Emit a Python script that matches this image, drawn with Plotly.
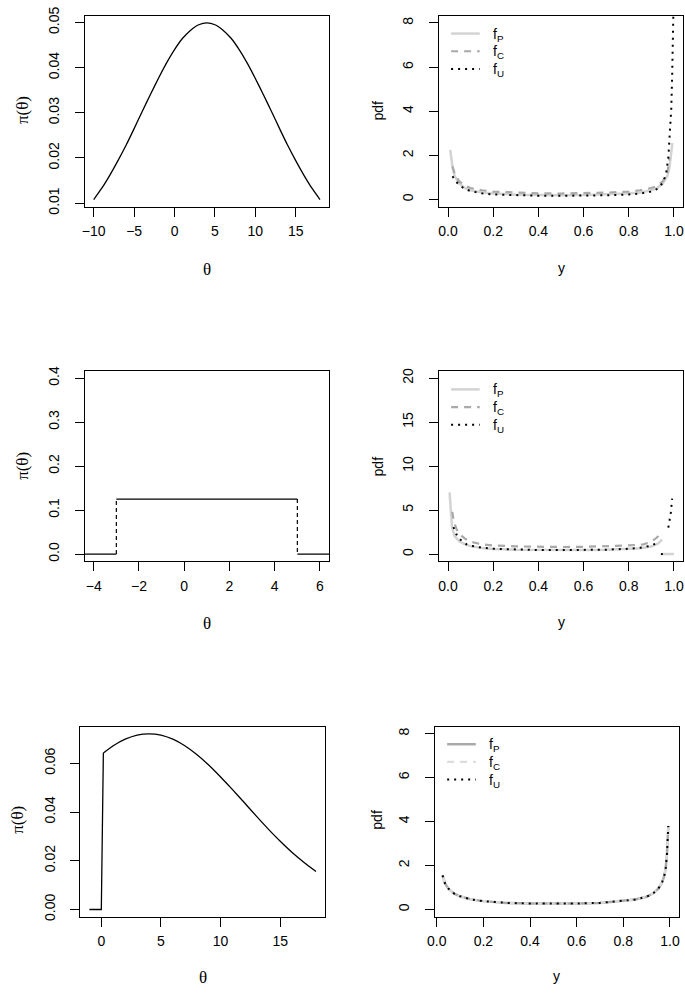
import plotly.graph_objects as go

W, H = 685, 995

# ---------------- data ----------------
# Panel 1: normal-shaped prior
theta_a = list(range(-10, 19))
prior_a = [0.0108, 0.0133, 0.0162, 0.0194, 0.0228, 0.0265, 0.0303, 0.0340, 0.0376, 0.0410,
           0.0440, 0.0465, 0.0483, 0.0495, 0.0499, 0.0495, 0.0483, 0.0465, 0.0440, 0.0410,
           0.0376, 0.0340, 0.0303, 0.0265, 0.0228, 0.0194, 0.0162, 0.0133, 0.0108]

# Panel 2: predictive densities
yB_P = [0.01, 0.02, 0.03, 0.05, 0.075, 0.1, 0.15, 0.2, 0.3, 0.4, 0.5, 0.6, 0.7, 0.8, 0.85,
        0.9, 0.925, 0.95, 0.97, 0.98, 0.993]
fB_P = [2.25, 1.45, 1.05, 0.72, 0.52, 0.42, 0.32, 0.27, 0.22, 0.20, 0.19, 0.20, 0.22, 0.27,
        0.32, 0.42, 0.52, 0.72, 1.05, 1.45, 2.55]
yB_C = [0.02, 0.03, 0.05, 0.075, 0.1, 0.15, 0.2, 0.3, 0.4, 0.5, 0.6, 0.7, 0.8, 0.85, 0.9,
        0.925, 0.95, 0.97, 0.98]
fB_C = [1.5, 1.15, 0.82, 0.62, 0.52, 0.42, 0.36, 0.31, 0.28, 0.27, 0.28, 0.31, 0.36, 0.42,
        0.52, 0.62, 0.82, 1.15, 1.9]
yB_U = [0.02, 0.03, 0.05, 0.075, 0.1, 0.15, 0.2, 0.3, 0.4, 0.5, 0.6, 0.7, 0.8, 0.85, 0.9,
        0.93, 0.95, 0.965, 0.975, 0.982, 0.988, 0.992, 0.995, 0.998]
fB_U = [1.05, 0.88, 0.65, 0.48, 0.38, 0.28, 0.23, 0.19, 0.17, 0.17, 0.17, 0.19, 0.23, 0.27,
        0.36, 0.5, 0.75, 1.15, 1.9, 2.9, 4.1, 5.6, 7.2, 8.8]

# Panel 3: uniform prior on [-3, 5]
theta_c_flat = [-5, -3, None, -3, 5, None, 5, 7]
prior_c_flat = [0, 0, None, 0.125, 0.125, None, 0, 0]
theta_c_jump = [-3, -3, None, 5, 5]
prior_c_jump = [0, 0.125, None, 0.125, 0]

# Panel 4: predictive densities
yD_P = [0.007, 0.012, 0.018, 0.03, 0.05, 0.075, 0.1, 0.15, 0.2, 0.3, 0.4, 0.5, 0.6, 0.7, 0.8,
        0.85, 0.9, 0.93, 0.947, None, 0.95, 1.0]
fD_P = [7.0, 4.5, 3.0, 2.0, 1.45, 1.1, 0.9, 0.7, 0.58, 0.5, 0.46, 0.45, 0.46, 0.5, 0.58,
        0.65, 0.85, 1.2, 1.65, None, 0, 0]
yD_C = [0.019, 0.025, 0.038, 0.05, 0.075, 0.1, 0.15, 0.2, 0.3, 0.4, 0.5, 0.6, 0.7, 0.8,
        0.865, 0.9, 0.923, 0.937]
fD_C = [4.8, 3.8, 2.8, 2.3, 1.75, 1.4, 1.1, 0.98, 0.87, 0.82, 0.8, 0.82, 0.87, 0.98,
        1.1, 1.4, 1.85, 2.2]
yD_U = [0.024, 0.038, 0.053, 0.082, 0.1, 0.15, 0.2, 0.3, 0.4, 0.5, 0.6, 0.7, 0.8, 0.85, 0.9,
        0.927, None, 0.942, 0.952, None, 0.975, 0.982, 0.986, 0.989, 0.992]
fD_U = [3.07, 2.2, 1.67, 1.1, 0.95, 0.72, 0.6, 0.5, 0.46, 0.45, 0.46, 0.5, 0.6, 0.72, 0.95,
        1.3, None, 0, 0, None, 3.0, 3.85, 4.7, 5.5, 6.3]

# Panel 5: truncated prior on [0, inf)
theta_e_jump = [-1, 0, 0.17]
prior_e_jump = [0, 0, 0.0642]
theta_e = [0.17, 1, 2, 3, 4, 5, 6, 7, 8, 9, 10, 11, 12, 13, 14, 15, 16, 17, 18]
prior_e = [0.0642, 0.0672, 0.0699, 0.0716, 0.0721, 0.0716, 0.0699, 0.0672, 0.0636,
           0.0593, 0.0544, 0.0492, 0.0438, 0.0383, 0.0330, 0.0280, 0.0234, 0.0193, 0.0156]

# Panel 6: predictive densities (all three coincide)
yF = [0.025, 0.035, 0.05, 0.075, 0.1, 0.15, 0.2, 0.3, 0.4, 0.5, 0.6, 0.7, 0.8, 0.85, 0.9,
      0.93, 0.95, 0.965, 0.975, 0.982, 0.987, 0.991, 0.993]
fF = [1.55, 1.2, 0.95, 0.72, 0.6, 0.45, 0.38, 0.3, 0.27, 0.26, 0.27, 0.3, 0.38, 0.45, 0.58,
      0.75, 0.95, 1.2, 1.5, 1.9, 2.5, 3.2, 3.8]

# tick labels
ticks_a_x = [-10, -5, 0, 5, 10, 15]
ticks_a_y = [0.01, 0.02, 0.03, 0.04, 0.05]
ticktext_a_y = ["0.01", "0.02", "0.03", "0.04", "0.05"]
ticks_pdf_x = [0, 0.2, 0.4, 0.6, 0.8, 1.0]
ticktext_pdf_x = ["0.0", "0.2", "0.4", "0.6", "0.8", "1.0"]
ticks_b_y = [0, 2, 4, 6, 8]
ticks_c_x = [-4, -2, 0, 2, 4, 6]
ticks_c_y = [0, 0.1, 0.2, 0.3, 0.4]
ticktext_c_y = ["0.0", "0.1", "0.2", "0.3", "0.4"]
ticks_d_y = [0, 5, 10, 15, 20]
ticks_e_x = [0, 5, 10, 15]
ticks_e_y = [0, 0.02, 0.04, 0.06]
ticktext_e_y = ["0.00", "0.02", "0.04", "0.06"]

legend_names = ["f<sub>P</sub>", "f<sub>C</sub>", "f<sub>U</sub>"]

# ---------------- styling ----------------
SANS = "Liberation Sans, Arial, Helvetica, sans-serif"
SERIF = "Liberation Serif, Times New Roman, serif"
DOT = "2px,5px"
DASH = "7px,6px"

COL_P = {2: "#d3d3d3", 4: "#d3d3d3", 6: "#a9a9a9"}
COL_C = {2: "#a9a9a9", 4: "#a9a9a9", 6: "#dcdcdc"}
STY_P = dict(width=2.5)
STY_C = dict(width=2.2, dash=DASH)
STY_U = dict(color="black", width=2, dash=DOT)

# panel frames in pixels (left, right, top, bottom)
frames = {
    1: (77.7, 325.3, 7.0, 201.0),
    2: (436.7, 684.0, 7.0, 201.0),
    3: (77.7, 325.3, 368.3, 561.7),
    4: (436.7, 684.0, 368.3, 561.7),
    5: (73.3, 321.3, 730.0, 923.3),
    6: (432.3, 680.0, 730.0, 923.3),
}


def dom(i):
    l, r, t, b = frames[i]
    return [l / W, r / W], [1 - b / H, 1 - t / H]


def axis_common():
    return dict(showline=True, mirror=True, linecolor="black", linewidth=1,
                ticks="outside", ticklen=9, tickwidth=1, tickcolor="black",
                showgrid=False, zeroline=False, fixedrange=True,
                tickfont=dict(family=SANS, size=14, color="black"))


fig = go.Figure()

def add(i, x, y, **kw):
    s = "" if i == 1 else str(i)
    fig.add_trace(go.Scatter(x=x, y=y, mode="lines", xaxis="x" + s, yaxis="y" + s,
                             hoverinfo="skip", showlegend=False, **kw))

# Panel 1
add(1, theta_a, prior_a, line=dict(color="black", width=1.3, shape="spline", smoothing=0.6))
# Panel 2
add(2, yB_P, fB_P, name="fP", line=dict(color=COL_P[2], **STY_P))
add(2, yB_C, fB_C, name="fC", line=dict(color=COL_C[2], **STY_C))
add(2, yB_U, fB_U, name="fU", line=STY_U)
# Panel 3
add(3, theta_c_flat, prior_c_flat, line=dict(color="black", width=1.2))
add(3, theta_c_jump, prior_c_jump, line=dict(color="black", width=1.2, dash="4px,3px"))
# Panel 4
add(4, yD_P, fD_P, name="fP", line=dict(color=COL_P[4], **STY_P))
add(4, yD_C, fD_C, name="fC", line=dict(color=COL_C[4], **STY_C))
add(4, yD_U, fD_U, name="fU", line=STY_U)
# Panel 5
add(5, theta_e_jump, prior_e_jump, line=dict(color="black", width=1.3))
add(5, theta_e, prior_e, line=dict(color="black", width=1.3, shape="spline", smoothing=0.6))
# Panel 6
add(6, yF, fF, name="fP", line=dict(color=COL_P[6], **STY_P))
add(6, yF, fF, name="fC", line=dict(color=COL_C[6], **STY_C))
add(6, yF, fF, name="fU", line=STY_U)

layout = dict(width=W, height=H, margin=dict(l=0, r=0, t=0, b=0),
              paper_bgcolor="white", plot_bgcolor="white", showlegend=False,
              font=dict(family=SANS, size=14, color="black"))

axes_spec = {
    1: dict(xr=[-11.12, 19.12], xt=ticks_a_x, xtt=None, yr=[0.00924, 0.05146], yt=ticks_a_y, ytt=ticktext_a_y),
    2: dict(xr=[-0.04, 1.04], xt=ticks_pdf_x, xtt=ticktext_pdf_x, yr=[-0.32, 8.32], yt=ticks_b_y, ytt=None),
    3: dict(xr=[-4.4, 6.4], xt=ticks_c_x, xtt=None, yr=[-0.016, 0.416], yt=ticks_c_y, ytt=ticktext_c_y),
    4: dict(xr=[-0.04, 1.04], xt=ticks_pdf_x, xtt=ticktext_pdf_x, yr=[-0.8, 20.8], yt=ticks_d_y, ytt=None),
    5: dict(xr=[-1.76, 18.76], xt=ticks_e_x, xtt=None, yr=[-0.00289, 0.07510], yt=ticks_e_y, ytt=ticktext_e_y),
    6: dict(xr=[-0.009, 1.039], xt=ticks_pdf_x, xtt=ticktext_pdf_x, yr=[-0.32, 8.32], yt=ticks_b_y, ytt=None),
}

for i, sp in axes_spec.items():
    s = "" if i == 1 else str(i)
    xd, yd = dom(i)
    xa = axis_common()
    xa.update(domain=xd, range=sp["xr"], tickvals=sp["xt"], anchor="y" + s,
              ticklabelstandoff=3)
    if sp["xtt"] is not None:
        xa["ticktext"] = sp["xtt"]
    ya = axis_common()
    ya.update(domain=yd, range=sp["yr"], tickvals=sp["yt"], anchor="x" + s,
              tickangle=-90, ticklabelstandoff=10)
    if sp["ytt"] is not None:
        ya["ticktext"] = sp["ytt"]
    layout["xaxis" + s] = xa
    layout["yaxis" + s] = ya

ann = []
shapes = []

# legends (R-style, no box): sample line + label
legend_pos = {  # panel: (x0, x1, text x, [row y's])
    2: (449, 478, 489, [25, 43, 61]),
    4: (449, 478, 489, [387, 405, 423]),
    6: (445, 474, 485, [748, 766, 784]),
}
for p, (x0, x1, tx, rows) in legend_pos.items():
    styles = [dict(color=COL_P[p], **STY_P), dict(color=COL_C[p], **STY_C), STY_U]
    for name, st, ry in zip(legend_names, styles, rows):
        shapes.append(dict(type="line", xref="paper", yref="paper",
                           x0=x0 / W, x1=x1 / W, y0=1 - ry / H, y1=1 - ry / H,
                           line=st))
        ann.append(dict(x=tx / W, y=1 - (ry + 1) / H, xref="paper", yref="paper",
                        text=name, showarrow=False, xanchor="left", yanchor="middle",
                        font=dict(family=SANS, size=14, color="black")))

# axis titles
def title(x, y, text, angle=0, serif=False):
    ann.append(dict(x=x / W, y=1 - y / H, xref="paper", yref="paper", text=text,
                    showarrow=False, textangle=angle, xanchor="center", yanchor="middle",
                    font=dict(family=SERIF if serif else SANS, size=17 if serif else 14,
                              color="black")))

title(201.5, 265, "θ", serif=True)
title(14, 103, "π(θ)", -90, serif=True)
title(560.5, 264, "y")
title(375.3, 103, "pdf", -90)
title(201.5, 625, "θ", serif=True)
title(14, 465, "π(θ)", -90, serif=True)
title(560.5, 624, "y")
title(375.3, 465, "pdf", -90)
title(197.3, 985, "θ", serif=True)
title(10, 825, "π(θ)", -90, serif=True)
title(556, 984, "y")
title(373.7, 825, "pdf", -90)

layout["annotations"] = ann
layout["shapes"] = shapes

fig.update_layout(**layout)
fig.write_html("out.html", config={"displayModeBar": False},
               post_script="document.body.style.margin='0';document.body.style.overflow='hidden';")
